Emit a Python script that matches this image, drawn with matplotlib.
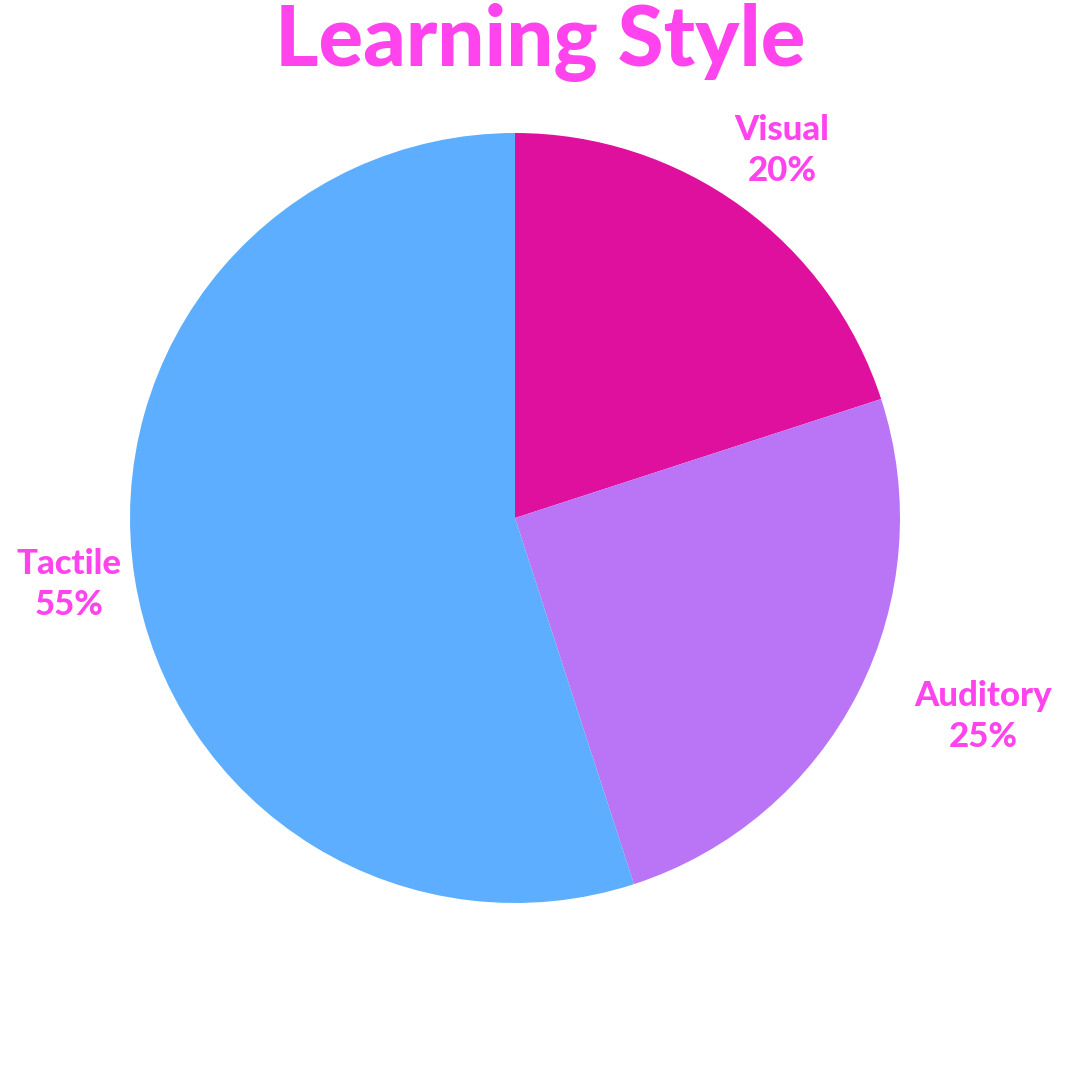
import numpy as np
import matplotlib.pyplot as plt

labels = ['Visual', 'Auditory', 'Tactile']
shares = [20, 25, 55]
colors = ['#E0109E', '#B975F5', '#5DAEFF']
label_dist = [1.18, 1.32, 1.17]
label_turn = [0, 4, -0.5]   # degrees nudged off the wedge middle

text_color = '#FF44EE'

fig = plt.figure(figsize=(10.8, 10.8), dpi=100)
# pie centre at (515, 518) px, radius 385 px
ax = fig.add_axes([(515 - 385) / 1080, (1080 - 518 - 385) / 1080, 770 / 1080, 770 / 1080])
wedges, _ = ax.pie(shares, colors=colors, startangle=90, counterclock=False,
                   wedgeprops=dict(linewidth=0))
ax.set_xlim(-1, 1)
ax.set_ylim(-1, 1)
ax.set_aspect('equal')

for w, lab, val, d, t in zip(wedges, labels, shares, label_dist, label_turn):
    ang = np.deg2rad((w.theta1 + w.theta2) / 2 + t)
    ax.text(d * np.cos(ang), d * np.sin(ang), f'{lab}\n{val}%',
            ha='center', va='center', color=text_color, fontsize=25,
            fontweight='black', family=['Lato', 'DejaVu Sans'],
            linespacing=1.32, clip_on=False)

fig.text(0.5, 1 - 42 / 1080, 'Learning Style', ha='center', va='center',
         color=text_color, fontsize=60, fontweight='black',
         family=['Lato', 'DejaVu Sans'])

fig.savefig('out.png', dpi=100, facecolor='white')
